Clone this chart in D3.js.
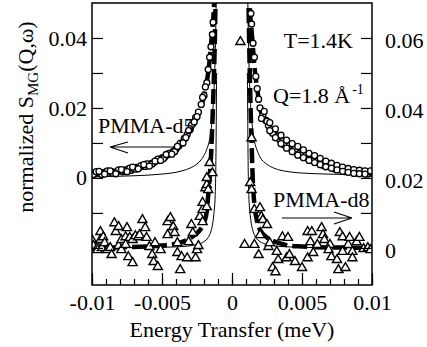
<!DOCTYPE html>
<html>
<head>
<meta charset="utf-8">
<script src="https://cdn.jsdelivr.net/npm/d3@7"></script>
<style>
  body { margin: 0; background: #fff; }
  text { font-family: "Liberation Serif", "Times New Roman", serif; fill: #000; }
</style>
</head>
<body>
<div id="chart"></div>
<script>
// PMMA-d5 points (left axis)
const d5E = [-0.0100,-0.0098,-0.0096,-0.0094,-0.0092,-0.0090,-0.0088,-0.0086,-0.0084,-0.0082,-0.0080,-0.0078,-0.0076,-0.0074,-0.0072,-0.0070,-0.0068,-0.0066,-0.0064,-0.0062,-0.0060,-0.0058,-0.0056,-0.0054,-0.0052,-0.0050,-0.0048,-0.0046,-0.0044,-0.0042,-0.0040,-0.0038,-0.0036,-0.0034,-0.0032,-0.0030,-0.0028,-0.0026,-0.0024,-0.0022,-0.0020,-0.0018,-0.0017,-0.0016,-0.0015,-0.0014,-0.00135,
  -0.0099,-0.0097,-0.0093,-0.0089,-0.0085,-0.0081,-0.0077,-0.0073,-0.0069,-0.0065,-0.0061,-0.0057,-0.0053,-0.0049,-0.0045,-0.0041,-0.0037,-0.0033,-0.0029,-0.0025,-0.0021,-0.0019,
  -0.0095,-0.0091,-0.0087,-0.0083,-0.0079,-0.0075,-0.0071,-0.0067,-0.0063,-0.0059,-0.0055,-0.0051,-0.0047,-0.0043,-0.0039,-0.0035,-0.0031,-0.0027,
  0.00135,0.0014,0.0015,0.0016,0.0017,0.0018,0.0019,0.0020,0.0022,0.0024,0.0026,0.0028,0.0030,0.0032,0.0034,0.0036,0.0038,0.0040,0.0042,0.0044,0.0046,0.0048,0.0050,0.0052,0.0054,0.0056,0.0058,0.0060,0.0062,0.0064,0.0066,0.0068,0.0070,0.0072,0.0074,0.0076,0.0078,0.0080,0.0082,0.0084,0.0086,0.0088,0.0090,0.0092,0.0094,0.0096,0.0098,0.0100,
  0.0021,0.0025,0.0029,0.0033,0.0037,0.0041,0.0045,0.0049,0.0053,0.0057,0.0061,0.0065,0.0069,0.0073,0.0077,0.0081,0.0085,0.0089,0.0093,0.0097,0.0099,
  0.0023,0.0027,0.0031,0.0035,0.0039,0.0043,0.0047,0.0051,0.0055,0.0059,0.0063,0.0067,0.0071,0.0075,0.0079,0.0083,0.0087,0.0091,0.0095,0.0099,
  0.0027,0.0031,0.0035,0.0039,0.0043,0.0047,0.0051,0.0055,0.0059,0.0063,0.0067,0.0071,0.0075,0.0079,0.0083,0.0087,0.0091,0.0095];
const d5S = [.0014,.0012,.0016,.0013,.0015,.0017,.0014,.0018,.0016,.0019,.0021,.0018,.0023,.0025,.0022,.0028,.0030,.0031,.0034,.0033,.0038,.0041,.0044,.0049,.0052,.0057,.0060,.0066,.0070,.0076,.0082,.0091,.0100,.0113,.0124,.0138,.0155,.0172,.0188,.0210,.0235,.0272,.0310,.0345,.0375,.0410,.0445,
  .0010,.0018,.0010,.0020,.0013,.0023,.0021,.0028,.0025,.0035,.0040,.0040,.0054,.0055,.0070,.0075,.0099,.0115,.0150,.0175,.0230,.0260,
  .0019,.0011,.0020,.0012,.0024,.0018,.0031,.0026,.0038,.0034,.0048,.0050,.0067,.0068,.0090,.0100,.0135,.0160,
  .0470,.0440,.0385,.0345,.0290,.0255,.0225,.0200,.0180,.0165,.0150,.0138,.0128,.0118,.0110,.0104,.0097,.0090,.0086,.0080,.0075,.0071,.0067,.0062,.0059,.0054,.0051,.0048,.0045,.0041,.0038,.0036,.0033,.0030,.0028,.0026,.0024,.0022,.0021,.0019,.0018,.0017,.0017,.0016,.0015,.0016,.0014,.0014,
  .0170,.0162,.0128,.0120,.0095,.0093,.0082,.0066,.0066,.0050,.0049,.0036,.0038,.0026,.0027,.0018,.0021,.0014,.0019,.0011,.0017,
  .0190,.0158,.0140,.0122,.0108,.0098,.0090,.0080,.0070,.0064,.0056,.0048,.0042,.0036,.0031,.0027,.0024,.0022,.0020,.0020,
  .0135,.0115,.0098,.0085,.0075,.0065,.0058,.0050,.0044,.0038,.0032,.0028,.0023,.0019,.0016,.0013,.0012,.0011];

// PMMA-d8 points (right axis)
const d8E = [-0.0100,-0.0099,-0.0096,-0.0096,-0.0094,-0.0094,-0.0092,-0.0093,-0.0091,-0.0089,-0.0087,-0.0086,-0.0084,-0.0083,-0.0081,-0.0081,-0.0079,-0.0079,-0.0076,-0.0075,-0.0076,-0.0074,-0.0071,-0.0073,-0.0071,-0.0069,-0.0067,-0.0066,-0.0064,-0.0062,-0.0061,-0.0059,-0.0057,-0.0056,-0.0055,-0.0053,-0.0051,-0.0046,-0.0044,-0.0046,-0.0042,-0.0041,-0.0039,-0.0039,-0.0037,-0.0036,-0.0032,-0.0031,-0.0029,-0.0028,-0.0026,-0.0025,-0.0024,-0.0023,-0.0021,-0.0021,-0.0021,-0.0018,-0.0019,-0.0018,-0.0017,-0.0014,-0.0016,-0.0018,
  0.0006,0.0014,0.0013,0.0014,0.0016,0.0020,0.0021,0.0022,0.0025,0.0009,0.0016,0.0019,0.0020,0.0026,0.0029,0.0031,0.0033,0.0032,0.0027,0.0036,0.0040,0.0039,0.0041,0.0045,0.0050,0.0054,0.0057,0.0056,0.0054,0.0058,0.0061,0.0064,0.0065,0.0066,0.0070,0.0069,0.0071,0.0075,0.0076,0.0077,0.0079,0.0079,0.0081,0.0083,0.0086,0.0086,0.0084,0.0089,0.0091,0.0094,0.0097,0.0099];
const d8S = [.0023,.0006,.0003,-.0006,.0046,.0023,.0031,.0000,.0014,-.0006,.0000,-.0020,.0071,.0046,.0060,.0006,-.0006,.0023,.0031,.0057,.0009,-.0026,-.0043,.0029,.0023,.0034,.0031,.0037,.0080,.0057,.0029,.0003,-.0020,-.0040,.0014,-.0054,-.0006,.0074,.0086,.0037,.0060,.0043,.0014,-.0014,-.0063,-.0026,-.0029,.0017,.0066,.0043,-.0029,-.0006,.0006,.0089,.0074,.0109,.0129,.0117,.0171,.0180,.0166,.0214,.0243,.0200,
  .0589,.0314,.0186,.0166,.0109,.0114,.0089,.0080,.0066,.0009,.0009,-.0020,.0037,.0003,-.0057,-.0069,-.0034,-.0011,.0014,.0031,.0029,-.0029,-.0020,-.0040,-.0057,.0046,.0046,.0017,-.0029,-.0014,.0009,.0057,.0037,.0023,.0009,-.0006,-.0026,-.0034,-.0063,.0043,.0031,-.0011,-.0057,.0009,-.0011,-.0029,.0029,.0017,.0029,-.0003,.0000,-.0006];

// thick dashed fits and thin lines (null = gap at the elastic peak)
const fitE5 = [-0.0100,-0.0090,-0.0080,-0.0070,-0.0060,-0.0050,-0.0045,-0.0040,-0.0035,-0.0030,-0.0027,-0.0024,-0.0022,-0.0020,-0.0018,-0.0016,-0.0015,-0.0014,-0.0013,-0.00125,-0.0012,null,0.0012,0.00125,0.0013,0.0014,0.0015,0.0016,0.0018,0.0020,0.0022,0.0025,0.0030,0.0035,0.0040,0.0045,0.0050,0.0060,0.0070,0.0080,0.0090,0.0100];
const fit5 = [0.0013,0.0016,0.0020,0.0026,0.0035,0.0053,0.0066,0.0080,0.0103,0.0135,0.0158,0.0184,0.0205,0.0235,0.0275,0.0335,0.0380,0.0425,0.0480,0.0530,0.0600,null,0.0600,0.0530,0.0470,0.0420,0.0370,0.0320,0.0255,0.0200,0.0177,0.0155,0.0127,0.0105,0.0090,0.0078,0.0067,0.0046,0.0032,0.0022,0.0017,0.0014];
const fitE8 = [-0.0100,-0.0080,-0.0060,-0.0050,-0.0040,-0.0035,-0.0030,-0.0025,-0.0022,-0.0020,-0.0018,-0.0017,-0.0016,-0.0015,-0.0014,-0.0013,-0.0012,-0.00115,null,0.00115,0.0012,0.0013,0.0014,0.0015,0.0016,0.0018,0.0020,0.0025,0.0030,0.0035,0.0040,0.0050,0.0060,0.0080,0.0100];
const fit8 = [0.0000,0.0002,0.0004,0.0007,0.0012,0.0018,0.0028,0.0042,0.0056,0.0071,0.0105,0.0150,0.0200,0.0260,0.0360,0.0480,0.0650,0.0800,null,0.0800,0.0650,0.0450,0.0300,0.0180,0.0125,0.0075,0.0052,0.0030,0.0019,0.0012,0.0007,0.0004,0.0002,0.0001,0.0000];
const thinE5 = [-0.0100,-0.0080,-0.0060,-0.0050,-0.0040,-0.0035,-0.0030,-0.0025,-0.0022,-0.0020,-0.0018,-0.0016,-0.0015,-0.0014,-0.0013,-0.0012,-0.00115,-0.0011,null,0.0011,0.00115,0.0012,0.0013,0.0014,0.0015,0.0016,0.0018,0.0020,0.0025,0.0030,0.0040,0.0050,0.0060,0.0080,0.0100];
const thin5 = [0.0003,0.0005,0.0008,0.0011,0.0016,0.0021,0.0028,0.0040,0.0052,0.0064,0.0082,0.0110,0.0135,0.0175,0.0240,0.0350,0.0450,0.0600,null,0.0600,0.0450,0.0350,0.0230,0.0170,0.0130,0.0105,0.0078,0.0060,0.0039,0.0028,0.0018,0.0014,0.0012,0.0010,0.0008];
const thinE8 = [-0.0100,-0.0060,-0.0040,-0.0030,-0.0025,-0.0020,-0.0017,-0.0015,-0.0014,-0.0013,-0.0012,-0.00115,-0.0011,null,0.0011,0.00115,0.0012,0.0013,0.0014,0.0015,0.0017,0.0020,0.0025,0.0030,0.0040,0.0060,0.0100];
const thin8 = [0.0000,0.0001,0.0003,0.0006,0.0010,0.0018,0.0030,0.0048,0.0065,0.0095,0.0150,0.0250,0.0500,null,0.0500,0.0250,0.0150,0.0095,0.0065,0.0048,0.0030,0.0018,0.0010,0.0006,0.0003,0.0001,0.0000];

// ticks
const xMajor = [-0.01, -0.005, 0, 0.005, 0.01];
const xMinor = d3.range(-10, 11).map(i => i / 1000);
const yLMajor = [0, 0.02, 0.04];
const yLMinor = [-0.02, -0.01, 0.01, 0.03];
const yRMajor = [0, 0.02, 0.04, 0.06];
const yRMinor = [0.01, 0.03, 0.05];

const W = 427, H = 347;
const L = 92, R = 372, T = 3, B = 285;

const svg = d3.select('#chart').append('svg')
  .attr('width', W).attr('height', H);

const x = d3.scaleLinear().domain([-0.01, 0.01]).range([L, R]);
const yL = d3.scaleLinear().domain([-0.0306, 0.05]).range([B, T]);
const yR = d3.scaleLinear().domain([-0.0106, 0.07]).range([B, T]);

svg.append('clipPath').attr('id', 'clip')
  .append('rect').attr('x', L).attr('y', T).attr('width', R - L).attr('height', B - T);

const plot = svg.append('g').attr('clip-path', 'url(#clip)');

function pairs(xs, ys) { return xs.map((e, i) => [e, ys[i]]); }

function drawLine(xs, ys, yScale, width, dash) {
  const line = d3.line()
    .defined(d => d[0] !== null && d[1] !== null)
    .x(d => x(d[0])).y(d => yScale(d[1]))
    .curve(d3.curveMonotoneX);
  plot.append('path')
    .datum(pairs(xs, ys))
    .attr('d', line)
    .attr('fill', 'none')
    .attr('stroke', '#000')
    .attr('stroke-width', width)
    .attr('stroke-dasharray', dash || null);
}

drawLine(fitE5, fit5, yL, 4.5, '15,5');
drawLine(fitE8, fit8, yR, 4.5, '15,5');
drawLine(thinE5, thin5, yL, 1);
drawLine(thinE8, thin8, yR, 1);

// circles
plot.selectAll('circle.d5')
  .data(pairs(d5E, d5S))
  .enter().append('circle')
  .attr('cx', d => x(d[0])).attr('cy', d => yL(d[1]))
  .attr('r', 3)
  .attr('fill', '#fff').attr('stroke', '#000').attr('stroke-width', 1.3);

// triangles
const tri = d3.symbol().type(d3.symbolTriangle).size(36);
plot.selectAll('path.d8')
  .data(pairs(d8E, d8S))
  .enter().append('path')
  .attr('d', tri)
  .attr('transform', d => 'translate(' + x(d[0]) + ',' + yR(d[1]) + ')')
  .attr('fill', '#fff').attr('stroke', '#000').attr('stroke-width', 1.4);

// frame
svg.append('rect')
  .attr('x', L).attr('y', T).attr('width', R - L).attr('height', B - T)
  .attr('fill', 'none').attr('stroke', '#000').attr('stroke-width', 1.5);

function styleAxis(g) {
  g.select('.domain').remove();
  g.selectAll('line').attr('stroke', '#000').attr('stroke-width', 1.2);
  g.selectAll('text').style('font-family', '"Liberation Serif", serif').style('font-size', '22px').attr('fill', '#000');
}

const fmt = d => String(d);

// bottom
svg.append('g').attr('transform', 'translate(0,' + B + ')')
  .call(d3.axisBottom(x).tickValues(xMinor).tickSize(-6).tickFormat(''))
  .call(styleAxis);
svg.append('g').attr('transform', 'translate(0,' + B + ')')
  .call(d3.axisBottom(x).tickValues(xMajor).tickSize(-12).tickPadding(9).tickFormat(fmt))
  .call(styleAxis);

// left
svg.append('g').attr('transform', 'translate(' + L + ',0)')
  .call(d3.axisLeft(yL).tickValues(yLMinor).tickSize(-11).tickFormat(''))
  .call(styleAxis);
svg.append('g').attr('transform', 'translate(' + L + ',0)')
  .call(d3.axisLeft(yL).tickValues(yLMajor).tickSize(-11).tickPadding(5).tickFormat(fmt))
  .call(styleAxis);

// right
svg.append('g').attr('transform', 'translate(' + R + ',0)')
  .call(d3.axisRight(yR).tickValues(yRMinor).tickSize(-11).tickFormat(''))
  .call(styleAxis);
svg.append('g').attr('transform', 'translate(' + R + ',0)')
  .call(d3.axisRight(yR).tickValues(yRMajor).tickSize(-11).tickPadding(13).tickFormat(fmt))
  .call(styleAxis)
  .selectAll('text').attr('dy', '0.42em');

// axis titles
svg.append('text')
  .attr('x', (L + R) / 2).attr('y', 337)
  .attr('text-anchor', 'middle')
  .style('font-size', '22px')
  .text('Energy Transfer (meV)');

const yt = svg.append('text')
  .attr('transform', 'translate(33,117) rotate(-90)')
  .attr('text-anchor', 'middle')
  .style('font-size', '22px');
yt.append('tspan').text('normalized S');
yt.append('tspan').attr('dy', 5).style('font-size', '15px').text('MG');
yt.append('tspan').attr('dy', -5).text('(Q,ω)');

// annotations
svg.append('text').attr('x', 353).attr('y', 48).attr('text-anchor', 'end')
  .style('font-size', '22px').text('T=1.4K');
const q = svg.append('text').attr('x', 273).attr('y', 103).style('font-size', '22px');
q.append('tspan').text('Q=1.8 Å');
q.append('tspan').attr('dy', -9).attr('dx', 2).style('font-size', '14px').text('-1');

svg.append('text').attr('x', 98).attr('y', 133).style('font-size', '22px').text('PMMA-d5');
svg.append('text').attr('x', 273).attr('y', 207).style('font-size', '22px').text('PMMA-d8');

const arrows = svg.append('g').attr('stroke', '#000').attr('stroke-width', 1.2).attr('fill', 'none');
arrows.append('path').attr('d', 'M110,147 L175,147 M110,147 L128,142 M110,147 L128,153');
arrows.append('path').attr('d', 'M282,218 L352,218 M352,218 L334,212 M352,218 L334,224');
</script>
</body>
</html>
